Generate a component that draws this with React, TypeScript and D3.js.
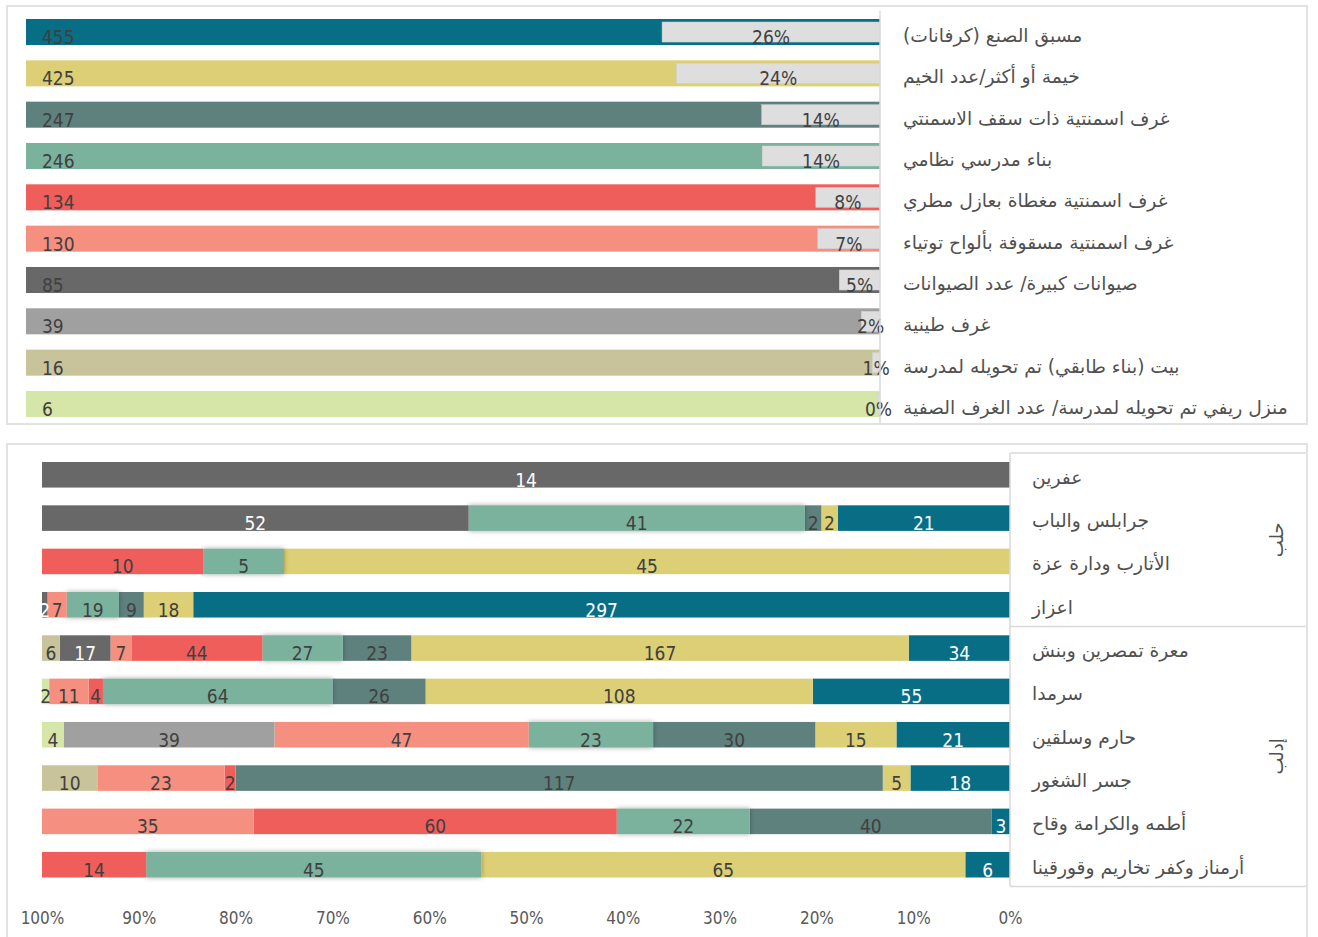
import { useEffect, useRef } from "react";
import * as d3 from "d3";

const W = 1318;
const H = 937;

// top chart: shelter type totals
const TYPES = [
  "مسبق الصنع (كرفانات)",
  "خيمة أو أكثر/عدد الخيم",
  "غرف اسمنتية ذات سقف الاسمنتي",
  "بناء مدرسي نظامي",
  "غرف اسمنتية مغطاة بعازل مطري",
  "غرف اسمنتية مسقوفة بألواح توتياء",
  "صيوانات كبيرة/ عدد الصيوانات",
  "غرف طينية",
  "بيت (بناء طابقي) تم تحويله لمدرسة",
  "منزل ريفي تم تحويله لمدرسة/ عدد الغرف الصفية",
];
const TYPE_TOTALS = [455, 425, 247, 246, 134, 130, 85, 39, 16, 6];
const TYPE_COLORS = [
  "#076e86", // prefab
  "#dccf76", // tents
  "#5e817d", // concrete roof
  "#7ab29e", // school building
  "#f05e5b", // insulated
  "#f58f7f", // zinc roof
  "#686868", // large tents
  "#a0a0a0", // mud rooms
  "#c8c39b", // converted house
  "#d6e5a8", // rural house
];

// bottom chart: districts grouped by governorate
const DISTRICTS = [
  "عفرين",
  "جرابلس والباب",
  "الأتارب ودارة عزة",
  "اعزاز",
  "معرة تمصرين وبنش",
  "سرمدا",
  "حارم وسلقين",
  "جسر الشغور",
  "أطمه والكرامة وقاح",
  "أرمناز وكفر تخاريم وقورقينا",
];
const GOVERNORATES = ["حلب", "إدلب"];
const GOV_SIZES = [4, 6];

// counts per type, one value per district (same order as DISTRICTS)
const PREFAB = [0, 21, 0, 297, 34, 55, 21, 18, 3, 6];
const TENTS = [0, 2, 45, 18, 167, 108, 15, 5, 0, 65];
const CONCRETE = [0, 2, 0, 9, 23, 26, 30, 117, 40, 0];
const SCHOOL = [0, 41, 5, 19, 27, 64, 23, 0, 22, 45];
const INSULATED = [0, 0, 10, 0, 44, 4, 0, 2, 60, 14];
const ZINC = [0, 0, 0, 7, 7, 11, 47, 23, 35, 0];
const LARGE_TENTS = [14, 52, 0, 2, 17, 0, 0, 0, 0, 0];
const MUD = [0, 0, 0, 0, 0, 0, 39, 0, 0, 0];
const HOUSE = [0, 0, 0, 0, 6, 0, 0, 10, 0, 0];
const RURAL = [0, 0, 0, 0, 0, 2, 4, 0, 0, 0];

const SERIES = [PREFAB, TENTS, CONCRETE, SCHOOL, INSULATED, ZINC, LARGE_TENTS, MUD, HOUSE, RURAL];

const X_TICKS = [0, 0.1, 0.2, 0.3, 0.4, 0.5, 0.6, 0.7, 0.8, 0.9, 1];

const NUM_FONT = '"Liberation Sans Narrow", "DejaVu Sans Condensed", Roboto, sans-serif';
const AR_FONT = '"DejaVu Sans", sans-serif';
const TEXT = "#404040";
const BORDER = "#e2e2e2";

export default function App() {
  const svgRef = useRef<SVGSVGElement>(null);

  useEffect(() => {
    if (!svgRef.current) return;
    const svg = d3.select(svgRef.current);
    svg.selectAll("*").remove();

    const defs = svg.append("defs");
    defs
      .append("filter")
      .attr("id", "shadow")
      .attr("x", "-10%")
      .attr("y", "-50%")
      .attr("width", "120%")
      .attr("height", "200%")
      .append("feDropShadow")
      .attr("dx", 0)
      .attr("dy", 0)
      .attr("stdDeviation", 2.5)
      .attr("flood-color", "#000")
      .attr("flood-opacity", 0.35);

    svg.append("rect").attr("width", W).attr("height", H).attr("fill", "#fff");

    // ---------- top panel ----------
    svg
      .append("rect")
      .attr("x", 7)
      .attr("y", 6)
      .attr("width", 1300)
      .attr("height", 418)
      .attr("fill", "none")
      .attr("stroke", BORDER)
      .attr("stroke-width", 2);

    const total = d3.sum(TYPE_TOTALS);
    const xTop = d3.scaleLinear().domain([0, 1]).range([26, 880]);
    const yTop = d3
      .scaleBand<string>()
      .domain(TYPES)
      .range([19, 417])
      .paddingInner(0.37)
      .paddingOuter(0);

    const top = svg.append("g");
    const rows = top
      .selectAll("g")
      .data(TYPES.map((t, i) => ({ t, v: TYPE_TOTALS[i], c: TYPE_COLORS[i], p: TYPE_TOTALS[i] / total })))
      .join("g");

    rows
      .append("rect")
      .attr("x", xTop(0))
      .attr("y", (d) => yTop(d.t)!)
      .attr("width", xTop(1) - xTop(0))
      .attr("height", yTop.bandwidth())
      .attr("fill", (d) => d.c);

    // share of total, drawn as grey label box from the right end
    rows
      .append("rect")
      .attr("x", (d) => xTop(1 - d.p))
      .attr("y", (d) => yTop(d.t)! + 3)
      .attr("width", (d) => xTop(1) - xTop(1 - d.p))
      .attr("height", yTop.bandwidth() - 6)
      .attr("fill", "#dedede")
      .attr("stroke", "#cfcfcf")
      .attr("stroke-width", 0.5);

    rows
      .append("text")
      .attr("x", xTop(0) + 16)
      .attr("y", (d) => yTop(d.t)! + yTop.bandwidth() - 1)
      .attr("font-family", NUM_FONT)
      .attr("font-size", 19)
      .attr("fill", TEXT)
      .text((d) => d.v);

    rows
      .append("text")
      .attr("x", (d) => (xTop(1 - d.p) + xTop(1)) / 2)
      .attr("y", (d) => yTop(d.t)! + yTop.bandwidth() - 1)
      .attr("text-anchor", "middle")
      .attr("font-family", NUM_FONT)
      .attr("font-size", 19)
      .attr("fill", TEXT)
      .text((d) => d3.format(".0%")(d.p));

    // category axis line
    top
      .append("line")
      .attr("x1", 880)
      .attr("x2", 880)
      .attr("y1", 11)
      .attr("y2", 424)
      .attr("stroke", "#d9d9d9")
      .attr("stroke-width", 1.5);

    rows
      .append("text")
      .attr("x", 903)
      .attr("y", (d) => yTop(d.t)! + yTop.bandwidth() / 2 + 10)
      .attr("direction", "rtl")
      .attr("text-anchor", "end")
      .attr("font-family", AR_FONT)
      .attr("font-size", 18.7)
      .attr("fill", "#505050")
      .text((d) => d.t);

    // ---------- bottom panel ----------
    svg
      .append("rect")
      .attr("x", 7)
      .attr("y", 444)
      .attr("width", 1300)
      .attr("height", 520)
      .attr("fill", "none")
      .attr("stroke", BORDER)
      .attr("stroke-width", 2);

    const x = d3.scaleLinear().domain([0, 1]).range([1010, 42]);
    const y = d3
      .scaleBand<string>()
      .domain(DISTRICTS)
      .range([462, 877.5])
      .paddingInner(0.41)
      .paddingOuter(0);

    const table = DISTRICTS.map((name, i) => {
      const row: Record<string, number | string> = { name };
      SERIES.forEach((s, k) => (row[`k${k}`] = s[i]));
      return row;
    });
    const keys = SERIES.map((_, k) => `k${k}`);
    const stacked = d3
      .stack<Record<string, number | string>>()
      .keys(keys)
      .offset(d3.stackOffsetExpand)(table);

    const bottom = svg.append("g");
    stacked.forEach((layer, k) => {
      const g = bottom
        .append("g")
        .attr("filter", k === 3 ? "url(#shadow)" : null);
      const segs = layer.filter((d) => (d.data[`k${k}`] as number) > 0);
      g.selectAll("rect")
        .data(segs)
        .join("rect")
        .attr("x", (d) => x(d[1]))
        .attr("y", (d) => y(d.data.name as string)!)
        .attr("width", (d) => x(d[0]) - x(d[1]))
        .attr("height", y.bandwidth())
        .attr("fill", TYPE_COLORS[k]);
    });

    stacked.forEach((layer, k) => {
      const segs = layer.filter((d) => (d.data[`k${k}`] as number) > 0);
      bottom
        .append("g")
        .selectAll("text")
        .data(segs)
        .join("text")
        .attr("x", (d) => (x(d[0]) + x(d[1])) / 2)
        .attr("y", (d) => y(d.data.name as string)! + y.bandwidth() - 1)
        .attr("text-anchor", "middle")
        .attr("font-family", NUM_FONT)
        .attr("font-size", 19)
        .attr("fill", k === 0 || k === 6 ? "#fff" : TEXT)
        .text((d) => d.data[`k${k}`] as number);
    });

    // percent axis
    const axis = bottom
      .append("g")
      .attr("transform", "translate(0,909)")
      .call(
        d3
          .axisBottom(x)
          .tickValues(X_TICKS)
          .tickSize(0)
          .tickFormat(d3.format(".0%"))
      );
    axis.select(".domain").remove();
    axis
      .selectAll("text")
      .attr("font-family", NUM_FONT)
      .attr("font-size", 17)
      .attr("fill", "#595959");

    // district / governorate table
    const step = y.step();
    const pad = (step - y.bandwidth()) / 2;
    const yStart = y(DISTRICTS[0])! - pad;
    const yEnd = y(DISTRICTS[DISTRICTS.length - 1])! + y.bandwidth() + pad;
    const lines = bottom.append("g").attr("stroke", "#d9d9d9").attr("stroke-width", 1.5);
    lines.append("line").attr("x1", 1010).attr("x2", 1010).attr("y1", yStart).attr("y2", yEnd);

    let idx = 0;
    const bounds: number[] = [yStart];
    GOVERNORATES.forEach((gov, gi) => {
      const first = DISTRICTS[idx];
      const last = DISTRICTS[idx + GOV_SIZES[gi] - 1];
      const gTop = y(first)! - pad;
      const gBot = y(last)! + y.bandwidth() + pad;
      bounds.push(gBot);
      bottom
        .append("text")
        .attr("transform", `translate(1277,${(gTop + gBot) / 2}) rotate(-90)`)
        .attr("text-anchor", "middle")
        .attr("dy", "0.35em")
        .attr("font-family", AR_FONT)
        .attr("font-size", 18)
        .attr("fill", "#505050")
        .text(gov);
      idx += GOV_SIZES[gi];
    });
    bounds.forEach((b) =>
      lines.append("line").attr("x1", 1010).attr("x2", 1306).attr("y1", b).attr("y2", b)
    );

    bottom
      .append("g")
      .selectAll("text")
      .data(DISTRICTS)
      .join("text")
      .attr("x", 1032)
      .attr("y", (d) => y(d)! + y.bandwidth() / 2 + 9)
      .attr("direction", "rtl")
      .attr("text-anchor", "end")
      .attr("font-family", AR_FONT)
      .attr("font-size", 18.7)
      .attr("fill", "#505050")
      .text((d) => d);
  }, []);

  return (
    <svg
      ref={svgRef}
      width={W}
      height={H}
      style={{ position: "absolute", left: 0, top: 0 }}
    />
  );
}
